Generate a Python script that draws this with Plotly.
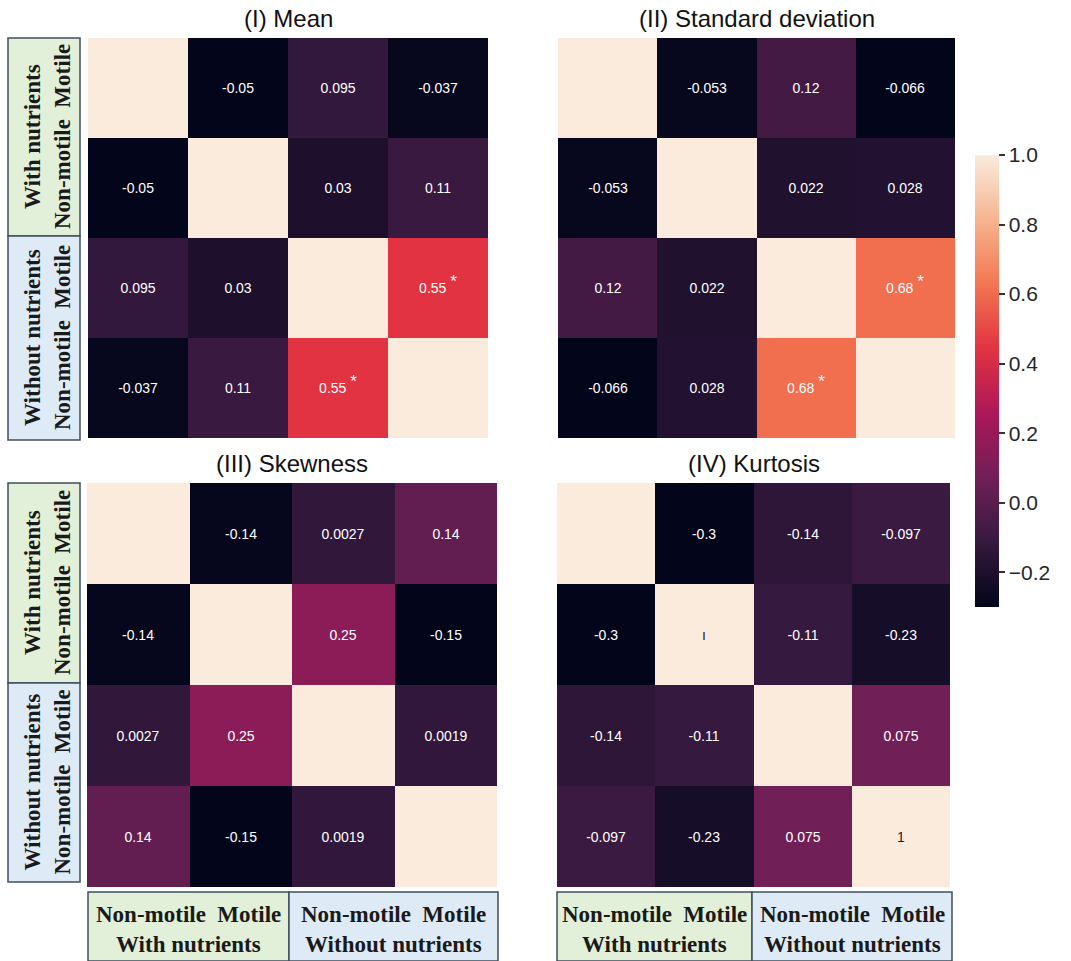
import plotly.graph_objects as go

W, H = 1071, 961

groups = ["With nutrients Non-motile", "With nutrients Motile",
          "Without nutrients Non-motile", "Without nutrients Motile"]

titles = ["(I) Mean", "(II) Standard deviation", "(III) Skewness", "(IV) Kurtosis"]

mean_vals = [[1, -0.05, 0.095, -0.037],
             [-0.05, 1, 0.03, 0.11],
             [0.095, 0.03, 1, 0.55],
             [-0.037, 0.11, 0.55, 1]]
std_vals = [[1, -0.053, 0.12, -0.066],
            [-0.053, 1, 0.022, 0.028],
            [0.12, 0.022, 1, 0.68],
            [-0.066, 0.028, 0.68, 1]]
skew_vals = [[1, -0.14, 0.0027, 0.14],
             [-0.14, 1, 0.25, -0.15],
             [0.0027, 0.25, 1, 0.0019],
             [0.14, -0.15, 0.0019, 1]]
kurt_vals = [[1, -0.3, -0.14, -0.097],
             [-0.3, 1, -0.11, -0.23],
             [-0.14, -0.11, 1, 0.075],
             [-0.097, -0.23, 0.075, 1]]

# significance marks (row, col)
significant = {0: [(2, 3), (3, 2)], 1: [(2, 3), (3, 2)], 2: [], 3: []}
# diagonal annotations visible in the original (kurtosis panel only)
diag_text = {3: {1: "ı", 3: "1"}}

colorbar_ticks = [-0.2, 0.0, 0.2, 0.4, 0.6, 0.8, 1.0]

rocket = [[0.0, "#03051a"], [1/7, "#35193e"], [2/7, "#701f57"], [3/7, "#ad1759"],
          [4/7, "#e13342"], [5/7, "#f37651"], [6/7, "#f6b48f"], [1.0, "#faebdd"]]

# panel pixel boxes: (x0, x1, y0, y1)
boxes = [(88, 488, 38, 438), (558, 955, 38, 438),
         (87, 497, 483, 887), (557, 950, 483, 887)]


def fx(px):
    return px / W


def fy(py):
    return 1 - py / H


def fmt(v):
    return f"{v:.2g}"


CELL_FONT = "Liberation Sans, Arial, sans-serif"

fig = go.Figure()
all_vals = [mean_vals, std_vals, skew_vals, kurt_vals]
for i, vals in enumerate(all_vals):
    txt = []
    for r in range(4):
        row = []
        for c in range(4):
            if r == c:
                row.append("")
            elif (r, c) in significant[i]:
                row.append(fmt(vals[r][c]) + " <sup><span style='font-size:17px'>*</span></sup>")
            else:
                row.append(fmt(vals[r][c]))
        txt.append(row)
    zmin = min(min(r) for r in vals)
    ax = "" if i == 0 else str(i + 1)
    tr = go.Heatmap(
        z=vals, x=groups, y=groups, text=txt, texttemplate="%{text}",
        textfont=dict(family=CELL_FONT, size=14, color="white"),
        colorscale=rocket, zmin=zmin, zmax=1, xaxis="x" + ax, yaxis="y" + ax,
        showscale=(i == 3), hoverinfo="z",
    )
    if i == 3:
        tr.colorbar = dict(
            x=fx(975), xanchor="left", xpad=0, y=fy(155), yanchor="top", ypad=0,
            lenmode="pixels", len=452, thicknessmode="pixels", thickness=24,
            tickvals=colorbar_ticks, tickformat=".1f", ticks="outside",
            ticklen=6, tickwidth=1.5, tickcolor="#333",
            tickfont=dict(family=CELL_FONT, size=21, color="#262626"),
            outlinewidth=0,
        )
    fig.add_trace(tr)
    # diagonal labels (dark text on light cells)
    for r, t in diag_text.get(i, {}).items():
        fig.add_annotation(x=groups[r], y=groups[r], xref="x" + ax, yref="y" + ax,
                           text=t, showarrow=False, xanchor="center", yanchor="middle",
                           font=dict(family=CELL_FONT, size=14, color="#222"))
    x0, x1, y0, y1 = boxes[i]
    fig.layout["xaxis" + ax] = dict(domain=[fx(x0), fx(x1)], anchor="y" + ax,
                                    showticklabels=False, showgrid=False, zeroline=False,
                                    ticks="", showline=False)
    fig.layout["yaxis" + ax] = dict(domain=[fy(y1), fy(y0)], anchor="x" + ax,
                                    showticklabels=False, showgrid=False, zeroline=False,
                                    ticks="", showline=False, autorange="reversed")
    fig.add_annotation(x=fx((x0 + x1) / 2), y=fy(y0 - 4), xref="paper", yref="paper",
                       text=titles[i], showarrow=False, xanchor="center", yanchor="bottom",
                       font=dict(family="Liberation Sans, Arial, sans-serif",
                                 size=24, color="#111"))

GREEN = "#e2efd9"
BLUE = "#deebf7"
EDGE = "#3f4f5f"
lab_font = dict(family="Liberation Serif, Times New Roman, serif", size=23, color="#1a1a1a")

# left label boxes (vertical)
left_groups = [((8, 80), (38, 236, 440)), ((8, 80), (483, 683, 882))]
for (lx0, lx1), (t, mid, b) in left_groups:
    for (ya, yb, fill, name) in [(t, mid, GREEN, "<b>With nutrients</b>"),
                                 (mid, b, BLUE, "<b>Without nutrients</b>")]:
        fig.add_shape(type="rect", xref="paper", yref="paper",
                      x0=fx(lx0), x1=fx(lx1), y0=fy(yb), y1=fy(ya),
                      fillcolor=fill, line=dict(color=EDGE, width=1.5), layer="below")
        cy = fy((ya + yb) / 2)
        fig.add_annotation(x=fx(lx0 + 24), y=cy, xref="paper", yref="paper", text=name,
                           textangle=-90, showarrow=False, xanchor="center",
                           yanchor="middle", font=lab_font)
        fig.add_annotation(x=fx(lx0 + 54), y=cy, xref="paper", yref="paper",
                           text="<b>Non-motile  Motile</b>",
                           textangle=-90, showarrow=False, xanchor="center",
                           yanchor="middle", font=lab_font)

# bottom label boxes (horizontal)
bottom_groups = [(88, 289, 498), (557, 752, 952)]
for (a, m, b) in bottom_groups:
    for (xa, xb, fill, name) in [(a, m, GREEN, "<b>With nutrients</b>"),
                                 (m, b, BLUE, "<b>Without nutrients</b>")]:
        fig.add_shape(type="rect", xref="paper", yref="paper",
                      x0=fx(xa), x1=fx(xb), y0=fy(961), y1=fy(892),
                      fillcolor=fill, line=dict(color=EDGE, width=1.5), layer="below")
        cx = fx((xa + xb) / 2)
        fig.add_annotation(x=cx, y=fy(914), xref="paper", yref="paper",
                           text="<b>Non-motile  Motile</b>", showarrow=False,
                           xanchor="center", yanchor="middle", font=lab_font)
        fig.add_annotation(x=cx, y=fy(944), xref="paper", yref="paper",
                           text=name, showarrow=False, xanchor="center",
                           yanchor="middle", font=lab_font)

fig.update_layout(width=W, height=H, margin=dict(l=0, r=0, t=0, b=0),
                  paper_bgcolor="white", plot_bgcolor="white", showlegend=False)

fig.write_html("out.html")
